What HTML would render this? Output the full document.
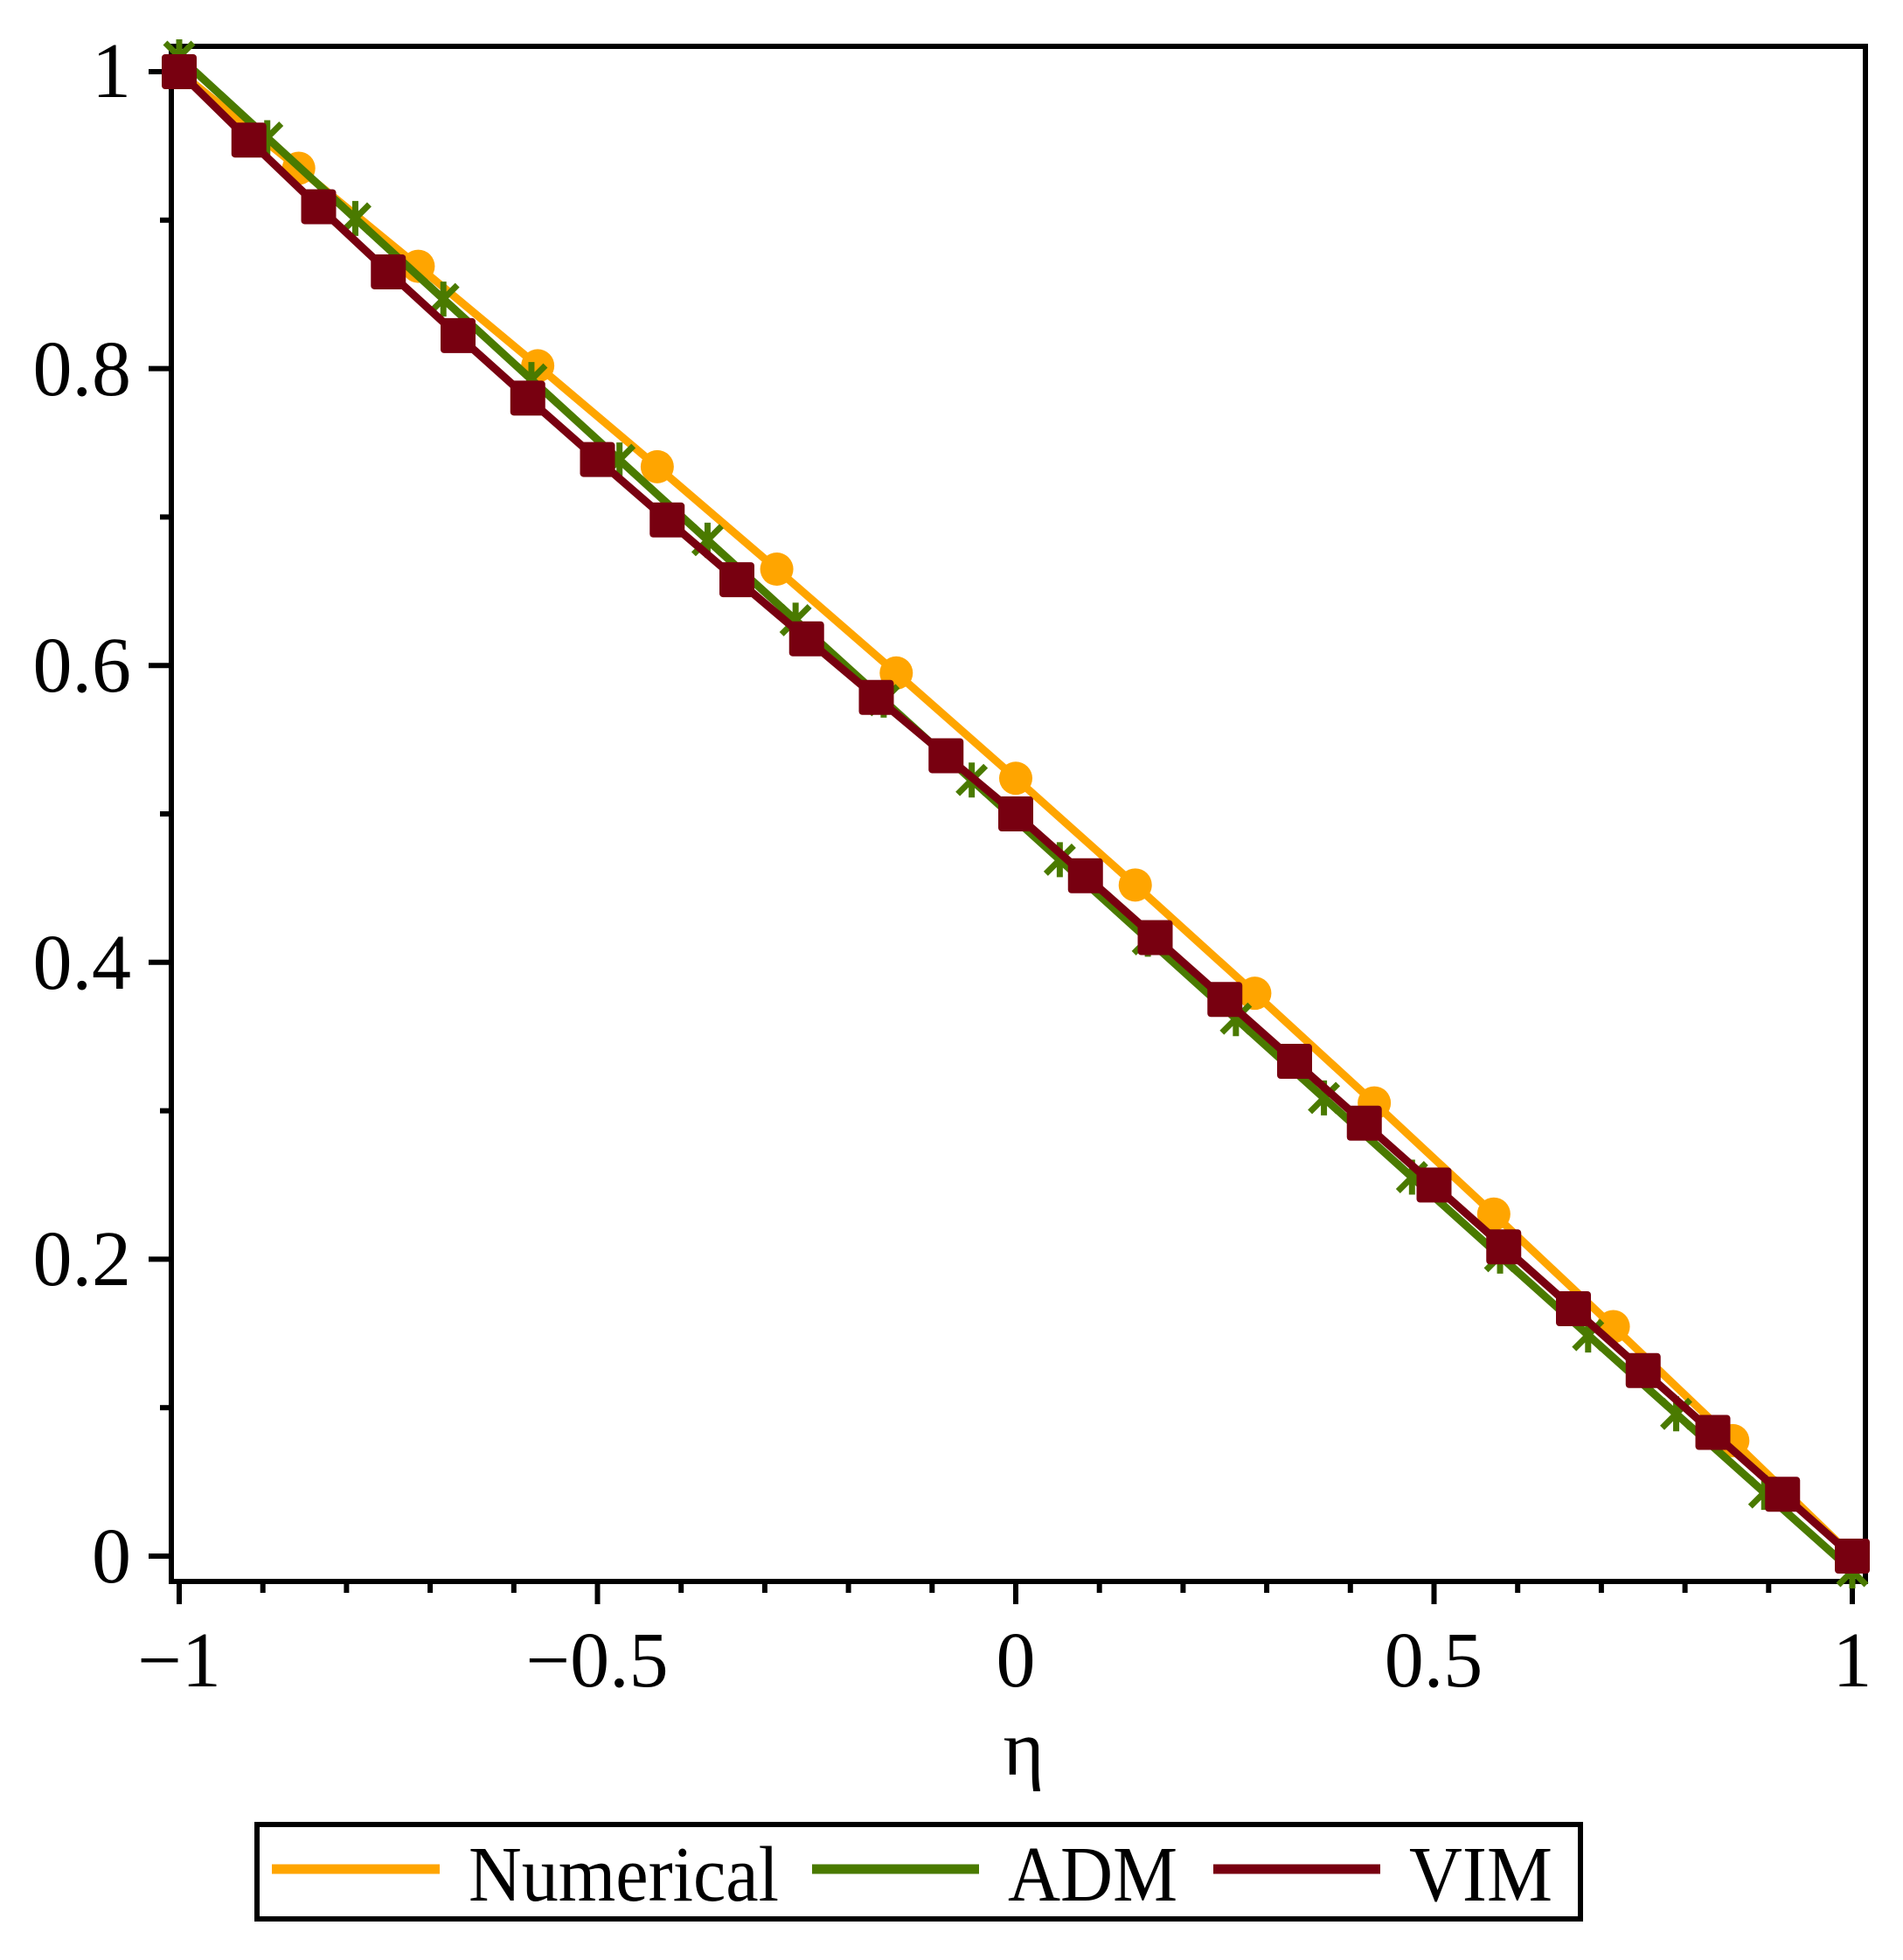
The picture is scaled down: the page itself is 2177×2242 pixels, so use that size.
<!DOCTYPE html>
<html><head><meta charset="utf-8"><style>
html,body{margin:0;padding:0;background:#fff}
svg{display:block}
text{font-family:"Liberation Serif",serif;fill:#000}
</style></head><body>
<svg id="s" width="2177" height="2242" viewBox="0 0 2177 2242" xmlns="http://www.w3.org/2000/svg">
<rect x="0" y="0" width="2177" height="2242" fill="#fff"/>
<g id="ticks" stroke="#000" stroke-width="6"></g>
<rect x="196" y="53" width="1938" height="1756" fill="none" stroke="#000" stroke-width="6"/>
<g id="series"></g>
<g font-size="90" text-anchor="end">
<text x="150" y="111">1</text>
<text x="150" y="452">0.8</text>
<text x="150" y="791">0.6</text>
<text x="150" y="1131">0.4</text>
<text x="150" y="1470">0.2</text>
<text x="150" y="1810">0</text>
</g>
<g font-size="90" text-anchor="middle">
<text x="205" y="1929">−1</text>
<text x="683" y="1929">−0.5</text>
<text x="1162" y="1929">0</text>
<text x="1640" y="1929">0.5</text>
<text x="2119" y="1929">1</text>
<text x="1171" y="2030">η</text>
</g>
<rect x="294" y="2087" width="1514" height="108" fill="none" stroke="#000" stroke-width="6"/>
<line x1="311" y1="2138" x2="503" y2="2138" stroke="#FFA500" stroke-width="11"/>
<line x1="929" y1="2138" x2="1120" y2="2138" stroke="#4A7A00" stroke-width="11"/>
<line x1="1388" y1="2138" x2="1579" y2="2138" stroke="#780010" stroke-width="11"/>
<g font-size="90">
<text x="536" y="2174" textLength="355" lengthAdjust="spacingAndGlyphs">Numerical</text>
<text x="1153" y="2174" textLength="194" lengthAdjust="spacingAndGlyphs">ADM</text>
<text x="1612" y="2174" textLength="164" lengthAdjust="spacingAndGlyphs">VIM</text>
</g>
</svg>
<script>
var NS="http://www.w3.org/2000/svg";
function X(x){return 205+(x+1)*957}
function Y(y){return 1780-y*1698}
function el(p,t,a){var e=document.createElementNS(NS,t);for(var k in a)e.setAttribute(k,a[k]);p.appendChild(e);return e}
var tk=document.getElementById('ticks');
for(var i=0;i<=10;i++){var y=Y(i/10);el(tk,'line',{x1:196,y1:y,x2:i%2?183:170,y2:y});}
for(var i=0;i<=20;i++){var x=X(-1+i/10);el(tk,'line',{x1:x,y1:1809,x2:x,y2:i%5?1822:1835});}
var g=document.getElementById('series');
function num(x){return 0.5*(1-x)+0.024*(1-x*x)}
function adm(x){return 0.5*(1-x)-0.01*x-0.004*(1-x*x)}
function vim(x){return 0.5*(1-x)+(x<0?0.03*x*(1-x*x):0)}
function poly(f,n,c){var p=[];for(var k=0;k<=n;k++){var x=-1+2*k/n;p.push(X(x)+','+Y(f(x)))}
el(g,'polyline',{points:p.join(' '),fill:'none',stroke:c,'stroke-width':9,'stroke-linejoin':'round','stroke-linecap':'round'});}
poly(num,14,'#FFA500');
for(var k=0;k<=14;k++){var x=-1+k/7;el(g,'circle',{cx:X(x),cy:Y(num(x)),r:19,fill:'#FFA500'});}
poly(adm,19,'#4A7A00');
for(var k=0;k<=19;k++){var x=-1+2*k/19,cx=X(x),cy=Y(adm(x)),s=16;
el(g,'path',{d:'M'+(cx-s)+' '+(cy-s)+'L'+(cx+s)+' '+(cy+s)+'M'+(cx+s)+' '+(cy-s)+'L'+(cx-s)+' '+(cy+s)+'M'+cx+' '+(cy-s-4)+'L'+cx+' '+(cy+s+4),stroke:'#4A7A00','stroke-width':7,fill:'none'});}
poly(vim,24,'#780010');
for(var k=0;k<=24;k++){var x=-1+k/12;el(g,'rect',{x:X(x)-20,y:Y(vim(x))-20,width:40,height:40,rx:4,fill:'#780010'});}
</script>
</body></html>
